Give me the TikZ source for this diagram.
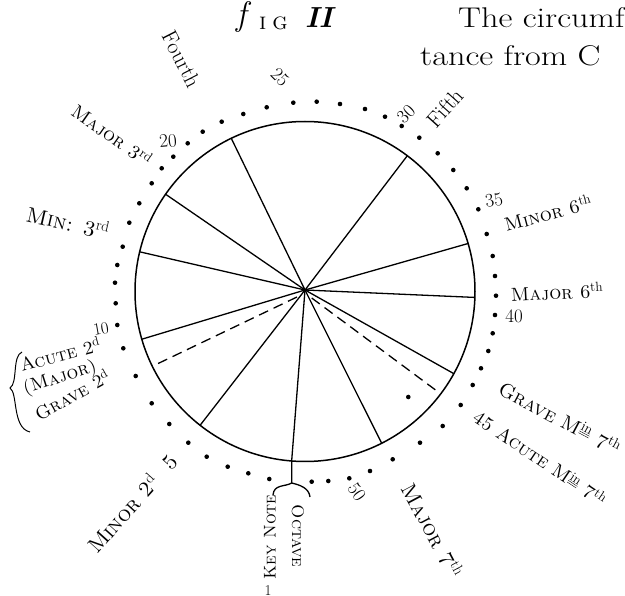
\documentclass[tikz,border=0pt]{standalone}
\usepackage{fontspec}
\newcommand\up[1]{\textsuperscript{\normalfont #1}}
\newcommand\MinAbbr{M\textsuperscript{\normalfont$\underline{\underline{\hbox{in}}}$}}
\tikzset{
  hand/.style={inner sep=0pt, font=\fontsize{19}{19}\selectfont\scshape},
  handbig/.style={inner sep=0pt, font=\fontsize{21.5}{21.5}\selectfont\scshape},
  handsm/.style={inner sep=0pt, font=\fontsize{17}{17}\selectfont\scshape},
  handmid/.style={inner sep=0pt, font=\fontsize{18.5}{18.5}\selectfont\scshape},
  script/.style={inner sep=0pt, font=\fontsize{22}{22}\selectfont},
  num/.style={inner sep=0pt, font=\fontsize{19}{19}\selectfont},
  book/.style={inner sep=0pt, anchor=base west, xscale=1.2, font=\fontsize{28.5}{28.5}\selectfont},
  ray/.style={line width=1.3pt},
  dashray/.style={line width=1.3pt, dash pattern=on 10pt off 6pt},
  rim/.style={line width=1.5pt},
}
\begin{document}
\begin{tikzpicture}[x=1pt,y=-1pt]
\useasboundingbox (0,0) rectangle (625,596);
% circle and hub
\coordinate (C) at (305,291.5);
\coordinate (H) at (305,290);
\draw[rim] (C) circle[radius=170pt];
% ray end points on the circle
\foreach \n/\a in {1/115.7,2/53.0,3/145.1,4/166.5,5/16.4,6/-2.0,7/196.3,8/231.9,9/265.5,10/-63.2,11/-28.9}
  \path (C) ++(\a:170pt) coordinate (E\n);
\foreach \n in {1,...,11} \draw[ray] (H) -- (E\n);
% dashed rays
\coordinate (DLa) at (297,297);
\coordinate (DLb) at (155,365);
\coordinate (DRa) at (311.7,298);
\coordinate (DRb) at (440,393.3);
\draw[dashray] (DLa) -- (DLb);
\draw[dashray] (DRa) -- (DRb);
% stem below the key note
\coordinate (S) at (291.7,483);
\coordinate (SL) at (273,495);
\coordinate (SR) at (310,497);
\draw[ray] (E9) -- (S);
\draw[ray] (S) .. controls (285,487) and (274,484) .. (SL);
\draw[ray] (S) .. controls (300,485) and (309,488) .. (SR);
% ring of dots
\foreach \x/\y in {311.7/481.7, 328.3/481, 349.3/478.3, 370/471, 392.7/459.3, 420/442.7, 442.7/426,
  460.7/405, 472.7/385, 481/368.3, 488.3/351, 492.7/333.3, 495/315, 496/295.7, 495/276, 492.7/256,
  486.7/234, 478.3/209.3, 466.7/188.3, 453.3/170, 437.7/153.3, 419.3/137.7, 401.7/126, 385/116.7,
  365/109, 340/104, 316.7/101.7, 293.3/102.7, 266.7/107.3, 243.3/114, 221.7/121.7, 202.7/131.7,
  187.7/143.3, 173.3/156.7, 161.7/168.3, 151.7/183.3, 139.3/203.3, 129.3/222.7, 122.7/246.7,
  117.3/265, 115/282.7, 115.7/303.3, 117.3/325, 123.3/348.3, 135.7/376, 151.7/403.3, 169.3/424,
  188.3/442.7, 206.7/456.7, 227.7/466.7, 248.3/473.3, 269.3/479, 408.3/397}
  \fill (\x,\y) circle[radius=2.3pt];
% title and book text
\node[inner sep=0pt, anchor=base west, font=\fontsize{34}{34}\selectfont\itshape] (figf) at (236,26) {f};
\node[inner sep=0pt, anchor=base west, font=\fontsize{24}{24}\selectfont\scshape] (figig) at (259,30) {i\hspace{6pt}g};
\node[inner sep=0pt, anchor=base west, font=\fontsize{29}{29}\selectfont\bfseries\itshape] (figii) at (305,28) {II};
\node[book] (line1) at (458,28) {The circumf};
\node[book] (line2) at (420,66) {tance from C};
% labels
\node[script, rotate=-63] (fourth) at (182,59) {Fourth};
\node[num, rotate=-45] (n25) at (280,77) {25};
\node[num, rotate=45] (n30) at (406,114) {30};
\node[script, rotate=48] (fifth) at (445,108) {Fifth};
\node[hand, rotate=-35] (maj3) at (112,135) {Major 3\up{rd}};
\node[num, rotate=5] (n20) at (168,141) {20};
\node[handbig, rotate=-13] (min3) at (68,222) {Min: 3\up{rd}};
\node[num, rotate=10] (n35) at (494,200) {35};
\node[hand, rotate=15] (min6) at (548,213) {Minor 6\up{th}};
\node[hand, rotate=3] (maj6) at (557,292) {Major 6\up{th}};
\node[num] (n40) at (514,316) {40};
\node[num, font=\fontsize{17}{17}\selectfont, rotate=10] (n10) at (101,329) {10};
\node[handmid, rotate=15] (acute2) at (60,354) {Acute 2\up{d}};
\node[handmid, rotate=18] (major2) at (60,378) {(Major)};
\node[handmid, rotate=29] (grave2) at (72,395) {Grave 2\up{d}};
\draw[line width=1pt] (22,352) .. controls (12,356) and (18,383) .. (10,388)
   .. controls (18,393) and (12,428) .. (30,432);
\node[inner sep=0pt, font=\fontsize{20}{20}\selectfont\scshape, rotate=-28] (grave7) at (560,418) {Grave \MinAbbr\ 7\up{th}};
\node[hand, rotate=-34] (acute7) at (540,458) {45 Acute \MinAbbr\ 7\up{th}};
\node[handbig, rotate=-62] (maj7) at (433,530) {Major 7\up{th}};
\node[num, rotate=-55] (n50) at (357,492) {50};
\node[handbig, rotate=48] (min2) at (132,503) {Minor 2\up{d}\ \ 5};
\node[handsm, rotate=90] (key) at (270,537) {Key Note};
\node[handsm, rotate=-90] (oct) at (298,536) {Octave};
\node[num, font=\fontsize{15}{15}\selectfont, anchor=south] (n1) at (268,596) {1};
\end{tikzpicture}
\end{document}
